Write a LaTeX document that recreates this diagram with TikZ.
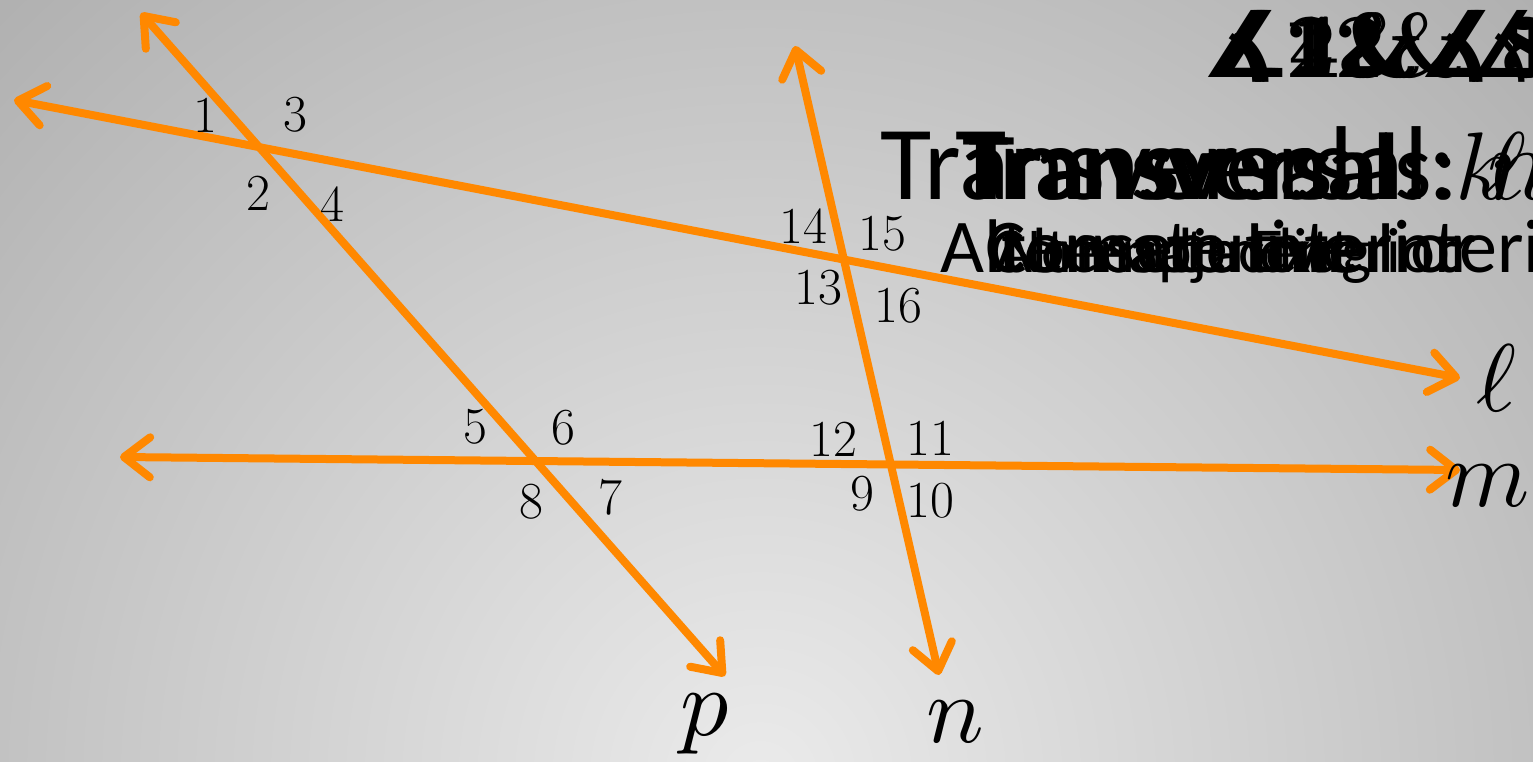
\documentclass[tikz,border=0pt]{standalone}
\usepackage{amssymb}
\usepackage{fontspec}
\setsansfont{Carlito}
\newfontfamily\angfont{DejaVu Sans}
\DeclareFontShape{OML}{cmm}{m}{it}{<->cmmi10}{}
\usetikzlibrary{arrows.meta}
\definecolor{lineorange}{RGB}{255,136,0}
\tikzset{
  ray/.style={draw=lineorange, line width=8pt, line cap=round,
    {Straight Barb[round,length=26pt,width=40pt]}-{Straight Barb[round,length=26pt,width=40pt]}},
  num/.style={font=\fontsize{52}{60}\selectfont, inner sep=0pt},
  linename/.style={font=\fontsize{96}{104}\selectfont, inner sep=0pt},
  titletext/.style={font=\sffamily\fontsize{105}{115}\selectfont, anchor=base west, inner sep=0pt},
  subtext/.style={font=\sffamily\fontsize{76}{84}\selectfont, anchor=base west, inner sep=0pt},
  angtext/.style={font=\bfseries\fontsize{92}{100}\selectfont, anchor=base west, inner sep=0pt}
}
\newcommand{\angsym}{{\angfont\mdseries ∡}}
\begin{document}
\begin{tikzpicture}[x=1pt,y=-1pt]
\useasboundingbox (0,0) rectangle (1533,762);
\begin{scope}
  \clip (0,0) rectangle (1533,762);
  \shade[inner color=black!8, outer color=black!31] (760,780) circle (1100);
\end{scope}
% ray end points
\coordinate (l1) at (14,100);
\coordinate (l2) at (1460,378);
\coordinate (m1) at (120,457);
\coordinate (m2) at (1460,470);
\coordinate (p1) at (141,13);
\coordinate (p2) at (725,676);
\coordinate (n1) at (795,46);
\coordinate (n2) at (939,675);
\draw[ray] (l1) -- (l2);
\draw[ray] (m1) -- (m2);
\draw[ray] (p1) -- (p2);
\draw[ray] (n1) -- (n2);
% angle numbers
\node[num] (a1) at (205,115) {1};
\node[num] (a3) at (295,115) {3};
\node[num] (a2) at (258,193) {2};
\node[num] (a4) at (332,204) {4};
\node[num] (a14) at (803,226) {14};
\node[num] (a15) at (882,234) {15};
\node[num] (a13) at (818,288) {13};
\node[num] (a16) at (898,306) {16};
\node[num] (a5) at (475,427) {5};
\node[num] (a6) at (563,428) {6};
\node[num] (a8) at (531,502) {8};
\node[num] (a7) at (610,497) {7};
\node[num] (a12) at (833,439) {12};
\node[num] (a11) at (930,438) {11};
\node[num] (a9) at (862,494) {9};
\node[num] (a10) at (930,501) {10};
% line names
\node[linename] (nl) at (1496,378) {$\ell$};
\node[linename] (nm) at (1488,486) {$m$};
\node[linename] (np) at (705,724) {$p$};
\node[linename] (nn) at (955,722) {$n$};
% overlapping texts (top right)
\node[angtext] (t1) at (1200,78) {\angsym 12\&\angsym 1};
\node[angtext] (t2) at (1206,78) {\angsym 4\&\angsym 5};
\node[angtext] (t3) at (1203,78) {\angsym 2\&\angsym 8};
\node[angtext] (t4) at (1210,78) {\angsym 1\&\angsym 13};
\node[titletext] (h1) at (880,200) {Transversal};
\node[titletext] (h2) at (955,200) {Transversal: $n$};
\node[titletext,font=\sffamily\fontsize{96}{105}\selectfont] (h3) at (962,200) {Transversals: $\ell$};
\node[titletext,font=\sffamily\fontsize{96}{105}\selectfont] (h4) at (968,200) {Transversal: $k$};
\node[subtext] (s1) at (940,272) {Alternate Interior};
\node[subtext] (s2) at (985,272) {Consecutive Interior};
\node[subtext,font=\sffamily\fontsize{64}{72}\selectfont] (s3) at (990,272) {Corresponding};
\node[subtext,font=\sffamily\fontsize{64}{72}\selectfont] (s4) at (995,272) {Alternate Exterior};
\node[subtext,font=\sffamily\fontsize{64}{72}\selectfont] (s5) at (1000,272) {Non-adjacent};
\end{tikzpicture}
\end{document}
